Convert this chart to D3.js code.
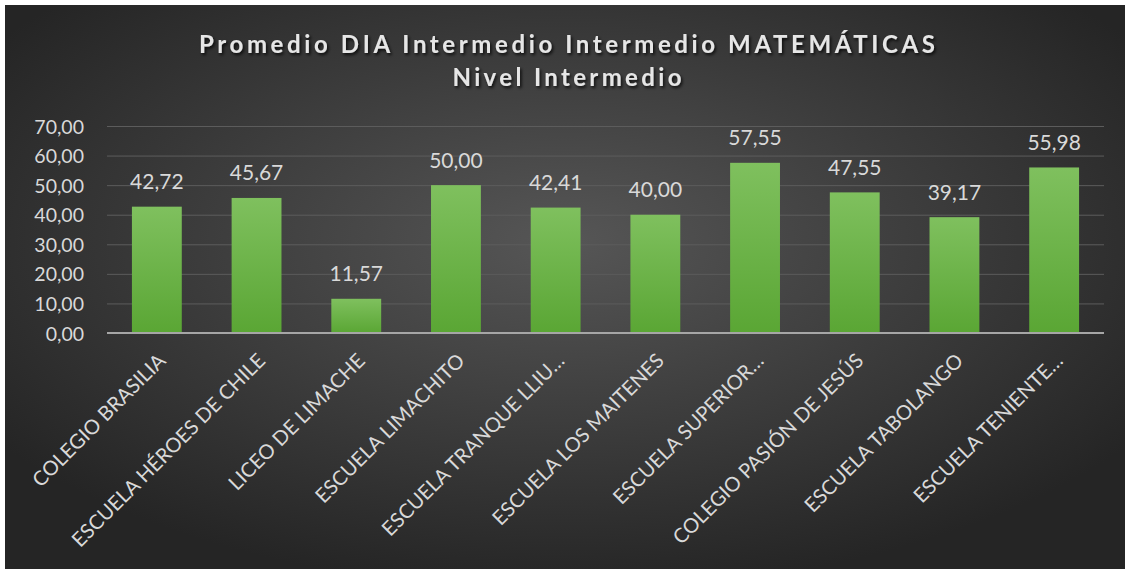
<!DOCTYPE html>
<html>
<head>
<meta charset="utf-8">
<script src="https://cdn.jsdelivr.net/npm/d3@7"></script>
<style>
  html, body { margin: 0; padding: 0; background: #ffffff; }
  svg { display: block; }
</style>
</head>
<body>
<svg id="chart" width="1125" height="569"></svg>
<script>
const titleLines = ["Promedio DIA Intermedio Intermedio MATEMÁTICAS", "Nivel Intermedio"];
const categories = [
  "COLEGIO BRASILIA",
  "ESCUELA HÉROES DE CHILE",
  "LICEO DE LIMACHE",
  "ESCUELA LIMACHITO",
  "ESCUELA TRANQUE LLIU…",
  "ESCUELA LOS MAITENES",
  "ESCUELA SUPERIOR…",
  "COLEGIO PASIÓN DE JESÚS",
  "ESCUELA TABOLANGO",
  "ESCUELA TENIENTE…"
];
const values = [42.72, 45.67, 11.57, 50.00, 42.41, 40.00, 57.55, 47.55, 39.17, 55.98];
const yTicks = [0, 10, 20, 30, 40, 50, 60, 70];

const W = 1125, H = 569;
const svg = d3.select("#chart");
const defs = svg.append("defs");

const bg = defs.append("radialGradient").attr("id", "bg")
  .attr("cx", "50%").attr("cy", "42%").attr("r", "62%");
bg.append("stop").attr("offset", "0%").attr("stop-color", "#565656");
bg.append("stop").attr("offset", "100%").attr("stop-color", "#252525");

const barGrad = defs.append("linearGradient").attr("id", "barGrad")
  .attr("x1", 0).attr("y1", 0).attr("x2", 0).attr("y2", 1);
barGrad.append("stop").attr("offset", "0%").attr("stop-color", "#7fc05e");
barGrad.append("stop").attr("offset", "100%").attr("stop-color", "#5aa634");

const shadow = defs.append("filter").attr("id", "tshadow")
  .attr("x", "-10%").attr("y", "-30%").attr("width", "120%").attr("height", "160%");
shadow.append("feDropShadow").attr("dx", 1.5).attr("dy", 2).attr("stdDeviation", 1.5)
  .attr("flood-color", "#000").attr("flood-opacity", 0.8);

svg.append("rect").attr("x", 0).attr("y", 0).attr("width", W).attr("height", H).attr("fill", "#ffffff");
svg.append("rect").attr("x", 5).attr("y", 5).attr("width", W - 5).attr("height", H - 5).attr("fill", "url(#bg)");

const plot = { left: 107, right: 1104, top: 126, bottom: 333 };

const x = d3.scaleBand().domain(categories)
  .range([plot.left, plot.right]).paddingInner(0.5).paddingOuter(0.25);
const y = d3.scaleLinear().domain([0, 70]).range([plot.bottom, plot.top]);

const fontFam = "Lato, 'Open Sans', sans-serif";
const txtColor = "#d9d9d9";

// gridlines
const grid = svg.append("g")
  .attr("transform", `translate(${plot.left},0)`)
  .call(d3.axisLeft(y).tickValues(yTicks).tickSize(-(plot.right - plot.left)).tickFormat(""));
grid.select(".domain").remove();
grid.selectAll(".tick line").attr("stroke", "#5c5c5c").attr("stroke-width", 1);

// y axis labels
const fmt = d => d3.format(".2f")(d).replace(".", ",");
const yAxis = svg.append("g")
  .attr("transform", `translate(${plot.left - 23},0)`)
  .call(d3.axisLeft(y).tickValues(yTicks).tickSize(0).tickPadding(0).tickFormat(fmt));
yAxis.select(".domain").remove();
yAxis.selectAll("text").attr("fill", txtColor).attr("font-family", fontFam)
  .attr("font-size", 19.5).attr("dy", "0.36em");

// bars
svg.append("g").selectAll("rect").data(values).join("rect")
  .attr("x", (d, i) => x(categories[i]))
  .attr("y", d => y(d))
  .attr("width", x.bandwidth())
  .attr("height", d => y(0) - y(d))
  .attr("fill", "url(#barGrad)");

// baseline
svg.append("line").attr("x1", plot.left).attr("x2", plot.right)
  .attr("y1", y(0)).attr("y2", y(0)).attr("stroke", "#a6a6a6").attr("stroke-width", 2);

// data labels
svg.append("g").selectAll("text").data(values).join("text")
  .attr("x", (d, i) => x(categories[i]) + x.bandwidth() / 2)
  .attr("y", d => y(d) - 17.5)
  .attr("text-anchor", "middle")
  .attr("fill", txtColor).attr("font-family", fontFam).attr("font-size", 21)
  .text(d => fmt(d));

// x axis labels
const xAxis = svg.append("g")
  .attr("transform", `translate(0,${plot.bottom})`)
  .call(d3.axisBottom(x).tickSize(0).tickPadding(0));
xAxis.select(".domain").remove();
xAxis.selectAll("text")
  .attr("fill", txtColor).attr("font-family", fontFam).attr("font-size", 20.2)
  .attr("text-anchor", "end")
  .attr("y", 0).attr("dy", "0.35em")
  .attr("transform", "translate(5,24) rotate(-45)");

// title
const titleG = svg.append("g").attr("filter", "url(#tshadow)");
const targets = [736, 229];
const baselines = [53, 86];
titleLines.forEach((t, i) => {
  const el = titleG.append("text")
    .attr("x", 567).attr("y", baselines[i])
    .attr("text-anchor", "middle")
    .attr("fill", "#e6e6e6").attr("font-family", fontFam)
    .attr("font-weight", "bold").attr("font-size", 24)
    .text(t);
  const w = el.node().getComputedTextLength();
  const ls = (targets[i] - w) / (t.length - 1);
  el.attr("letter-spacing", ls).attr("x", 567 + ls / 2);
});
</script>
</body>
</html>
